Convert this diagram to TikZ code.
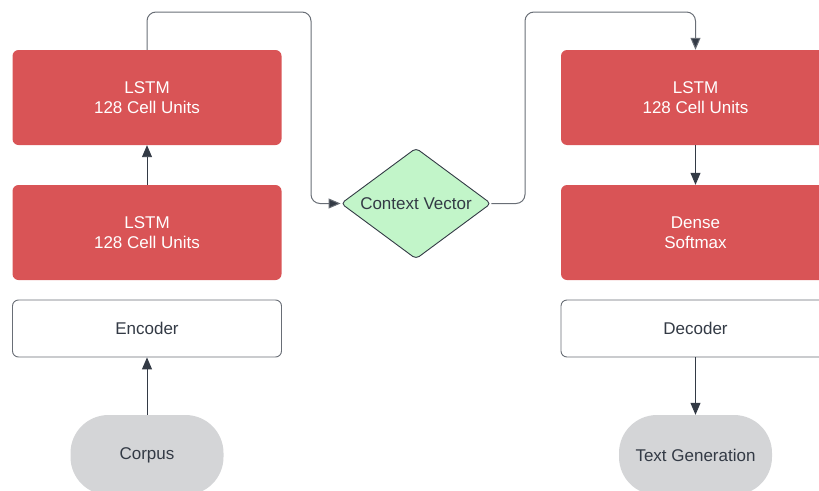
\documentclass[tikz,border=0pt]{standalone}
\usepackage{fontspec}
\setmainfont{Liberation Sans}
\usetikzlibrary{positioning,shapes.geometric,arrows.meta}

\definecolor{lstmred}{RGB}{217,84,86}
\definecolor{ctxgreen}{RGB}{194,245,201}
\definecolor{termgray}{RGB}{212,213,215}
\definecolor{inkdark}{RGB}{51,58,69}
\definecolor{linegray}{RGB}{105,110,118}

\begin{document}
\begin{tikzpicture}[x=1pt,y=1pt,yscale=-1,xscale=1,
  font=\fontsize{17}{20.5}\selectfont,
  layer/.style={fill=lstmred,draw=none,rounded corners=6pt,text=white,align=center,minimum width=269pt,minimum height=95pt,inner sep=0pt},
  stage/.style={fill=white,draw=linegray,line width=0.9pt,rounded corners=6pt,text=inkdark,minimum width=269pt,minimum height=57pt,inner sep=0pt},
  term/.style={fill=termgray,draw=none,rounded corners=38pt,text=inkdark,minimum width=153pt,minimum height=80pt,inner sep=0pt},
  ctxbox/.style={diamond,aspect=1.36,fill=ctxgreen,draw=inkdark,line width=0.9pt,rounded corners=4pt,text=inkdark,minimum width=150pt,minimum height=111pt,inner sep=0pt},
  flow/.style={draw=inkdark,line width=0.95pt,-{Triangle[length=12pt,width=10pt]}},
  loop/.style={draw=linegray,line width=1pt,rounded corners=9pt,-{Triangle[length=12pt,width=10pt,fill=inkdark]}}]

\useasboundingbox (0,0) rectangle (819,490);

% Encoder side
\node [layer] (encTop) at (147,97.5) {LSTM\\128 Cell Units};
\node [layer] (encBot) at (147,232.5) {LSTM\\128 Cell Units};
\node [stage] (enc) at (147,328.5) {Encoder};
\node [term] (corpus) at (147,455) {Corpus};

% Context
\node [ctxbox] (ctx) at (416,203.5) {Context Vector};

% Decoder side
\node [layer] (decTop) at (695.5,97.5) {LSTM\\128 Cell Units};
\node [layer] (dense) at (695.5,232.5) {Dense\\Softmax};
\node [stage] (dec) at (695.5,328.5) {Decoder};
\node [term] (textgen) at (695.5,455) {Text Generation};

\coordinate (viaA) at (311,12);
\coordinate (viaB) at (525,12);

% Connectors
\draw [flow] (corpus.north) -- (enc.south);
\draw [flow] (encBot.north) -- (encTop.south);
\draw [loop] (encTop.north) |- (viaA) |- (ctx.west);
\draw [loop] (ctx.east) -| (viaB) -| (decTop.north);
\draw [flow] (decTop.south) -- (dense.north);
\draw [flow] (dec.south) -- (textgen.north);

\end{tikzpicture}
\end{document}
